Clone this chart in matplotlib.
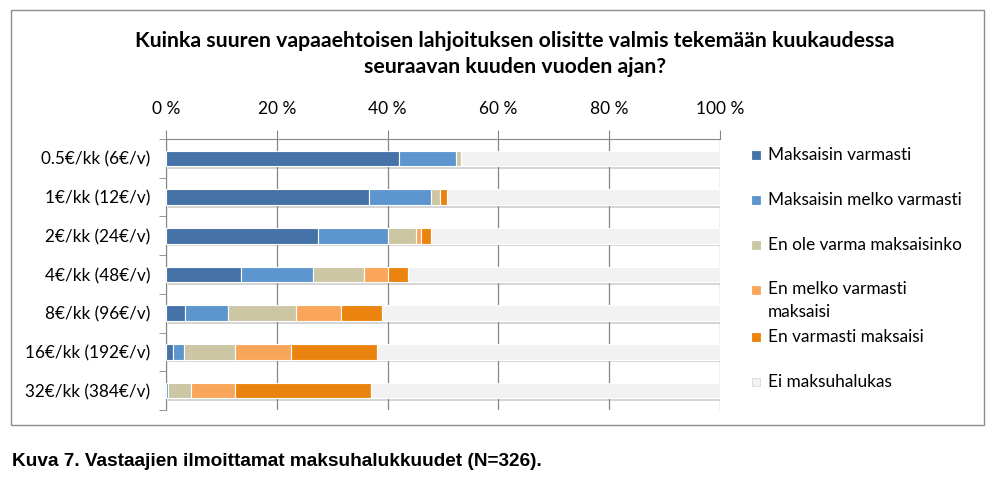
import matplotlib.pyplot as plt
import matplotlib.patheffects as pe
from matplotlib.patches import Rectangle
import numpy as np

plt.rcParams['font.family'] = ['Lato', 'DejaVu Sans']

# data (% of respondents)
categories = ['0.5€/kk (6€/v)', '1€/kk (12€/v)', '2€/kk (24€/v)', '4€/kk (48€/v)',
              '8€/kk (96€/v)', '16€/kk (192€/v)', '32€/kk (384€/v)']
series_names = ['Maksaisin varmasti', 'Maksaisin melko varmasti', 'En ole varma maksaisinko',
                'En melko varmasti\nmaksaisi', 'En varmasti maksaisi', 'Ei maksuhalukas']
maksaisin_varmasti = [42.1, 36.7, 27.5, 13.6, 3.4, 1.2, 0.0]
melko_varmasti = [10.2, 11.1, 12.6, 13.0, 7.8, 2.1, 0.4]
ei_varma = [1.0, 1.7, 5.0, 9.2, 12.3, 9.2, 4.2]
en_melko = [0.0, 0.0, 0.9, 4.3, 8.0, 10.1, 7.9]
en_varmasti = [0.0, 1.3, 1.8, 3.6, 7.5, 15.5, 24.5]
ei_halukas = [46.7, 49.2, 52.2, 56.3, 61.0, 61.9, 63.0]
xticks = [0, 20, 40, 60, 80, 100]

colors = ['#4573A7', '#5D96CF', '#CDC6A5', '#F9A65A', '#EB840F', '#F2F2F2']
values = [maksaisin_varmasti, melko_varmasti, ei_varma, en_melko, en_varmasti, ei_halukas]

fig = plt.figure(figsize=(9.92, 4.78), dpi=100)
ax = fig.add_axes([166 / 992, 1 - 410 / 478, (720 - 166) / 992, (410 - 139) / 478])

y = np.arange(len(categories))
left = np.zeros(len(categories))
shadow = [pe.SimplePatchShadow(offset=(1.5, -2), shadow_rgbFace='#888888', alpha=0.35), pe.Normal()]
for vals, col in zip(values, colors):
    vals = np.array(vals)
    bars = ax.barh(y, vals, left=left, height=0.4, color=col, edgecolor='white',
                   linewidth=0.8, zorder=3)
    for b in bars:
        b.set_path_effects(shadow)
    left += vals

ax.set_xlim(0, 100)
ax.set_ylim(len(categories) - 0.5, -0.5)
ax.xaxis.tick_top()
ax.set_xticks(xticks)
ax.set_xticklabels([f'{t} %' for t in xticks], fontsize=12.5)
ax.tick_params(axis='x', length=6.5, color='#868686', pad=9)
ax.set_yticks(y)
ax.set_yticklabels(categories, fontsize=12.3)
ax.set_yticks(np.arange(len(categories) + 1) - 0.5, minor=True)
ax.tick_params(axis='y', which='major', length=0, pad=11.5)
ax.tick_params(axis='y', which='minor', length=5, color='#868686')
ax.grid(axis='x', color='#868686', linewidth=0.9, zorder=0)
for s in ['right', 'bottom']:
    ax.spines[s].set_visible(False)
for s in ['left', 'top']:
    ax.spines[s].set_color('#868686')

# otsikko
fig.text(515 / 992, 1 - 54 / 478,
         'Kuinka suuren vapaaehtoisen lahjoituksen olisitte valmis tekemään kuukaudessa\nseuraavan kuuden vuoden ajan?',
         ha='center', va='center', fontsize=15.3, fontweight='bold', linespacing=1.4)

# selite (käsin, koska Excelin välit ovat epätasaiset)
leg_y = [155, 200, 245, 290, 337, 382]
for name, col, ly in zip(series_names, colors, leg_y):
    edge = '#d9d9d9' if col == '#F2F2F2' else col
    fig.patches.append(Rectangle((752 / 992, 1 - (ly + 4) / 478), 8 / 992, 8 / 478,
                                 transform=fig.transFigure, facecolor=col,
                                 edgecolor=edge, linewidth=0.6))
    if '\n' in name:
        fig.text(768 / 992, 1 - (ly - 9) / 478, name, ha='left', va='top',
                 fontsize=12.4, linespacing=1.55)
    else:
        fig.text(768 / 992, 1 - ly / 478, name, ha='left', va='center', fontsize=12.4)

# kaavion kehys
fig.patches.append(Rectangle((11 / 992, 1 - 425 / 478), 973 / 992, 415 / 478,
                             transform=fig.transFigure, fill=False, edgecolor='#8c8c8c', linewidth=1))

# kuvateksti
fig.text(12 / 992, 1 - 462 / 478, 'Kuva 7. Vastaajien ilmoittamat maksuhalukkuudet (N=326).',
         ha='left', va='center', fontsize=13.7, fontweight='bold', family='Liberation Sans')

fig.savefig('out.png', dpi=100)
